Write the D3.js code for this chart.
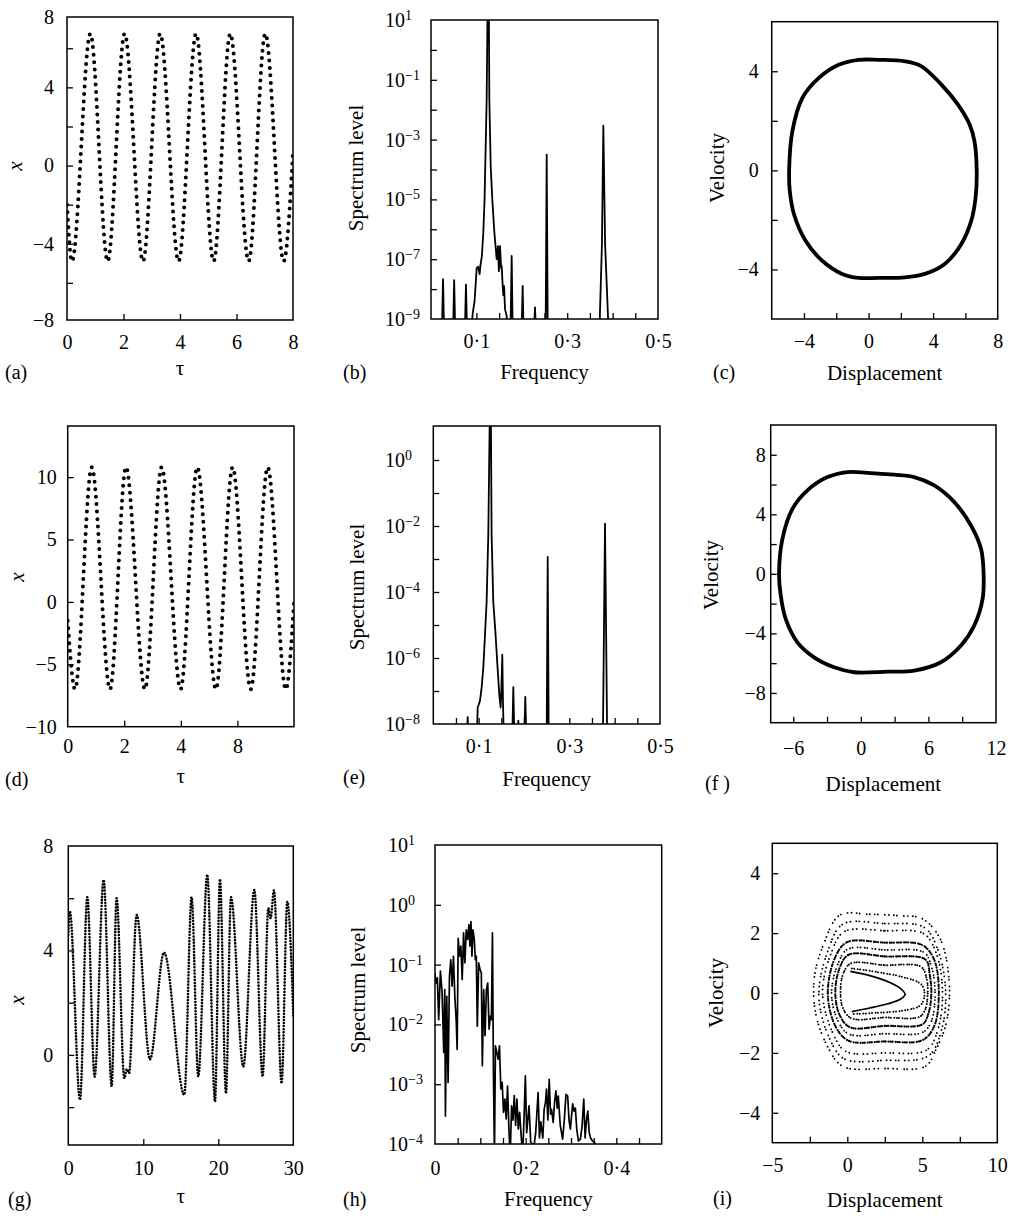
<!DOCTYPE html>
<html><head><meta charset="utf-8">
<script src="https://cdn.jsdelivr.net/npm/d3@7"></script>
<style>
body{margin:0;background:#fff}
text{font-family:"Liberation Serif","Times New Roman",serif;fill:#000}
</style>
</head><body>
<script>
// ---------------- DATA ----------------
// (a) time series: extremes
const tauA = [0, 0.177, 0.826, 1.44, 2.04, 2.69, 3.30, 3.95, 4.57, 5.19, 5.78, 6.43, 7.02, 7.67, 8.0];
const xA   = [-2.0, -4.9, 6.75, -4.9, 6.75, -4.9, 6.75, -4.9, 6.75, -4.9, 6.75, -4.9, 6.75, -4.9, 0.7];
// (d)
const tauD = [0, 0.259, 0.848, 1.496, 2.06, 2.73, 3.32, 3.99, 4.58, 5.24, 5.83, 6.47, 7.07, 7.71, 8.0];
const xD   = [-1.5, -7.0, 10.8, -7.0, 10.8, -7.0, 10.8, -7.0, 10.8, -7.0, 10.8, -7.0, 10.8, -7.0, 0.0];
// (g)
const tauG = [0, 0.2, 1.56, 2.53, 3.51, 4.71, 5.78, 6.44, 7.47, 7.8, 8.1, 9.11, 10.89, 12.76, 15.47, 16.44, 17.33, 18.53, 19.56, 20.22, 21.02, 21.69, 23.33, 24.8, 25.91, 26.67, 26.98, 27.42, 28.44, 29.2, 30];
const xG   = [4.6, 5.5, -1.72, 6.04, -0.83, 6.7, -1.21, 6.0, -0.9, -0.55, -0.7, 5.36, -0.17, 3.92, -1.53, 6.04, -0.83, 6.9, -1.79, 6.73, -1.47, 6.04, -0.45, 6.32, -0.83, 5.62, 5.24, 6.3, -1.09, 5.87, 1.5];

// (b) spectrum: frequency and log10(level)
const freqB = [0, 0.024, 0.0265, 0.029, 0.0485, 0.051, 0.0535, 0.0745, 0.077, 0.0795, 0.088, 0.092, 0.096, 0.099, 0.1006, 0.104, 0.107, 0.109, 0.112, 0.1152, 0.118, 0.1195, 0.1226, 0.1245, 0.1275, 0.1285, 0.1315, 0.135, 0.1396, 0.143, 0.1446, 0.1475, 0.1495, 0.152, 0.1545, 0.1556, 0.158, 0.1593, 0.161, 0.163, 0.1666, 0.169, 0.175, 0.1777, 0.180, 0.1995, 0.2019, 0.204, 0.2265, 0.2291, 0.2315, 0.2525, 0.2548, 0.2572, 0.3708, 0.3765, 0.3796, 0.3835, 0.3914, 0.5];
const expB  = [-9.5, -9.5, -7.67, -9.5, -9.5, -7.7, -9.5, -9.5, -7.85, -9.5, -9.5, -8.8, -8.4, -7.7, -7.3, -7.25, -7.5, -7.2, -6.9, -6.11, -5.0, -3.89, -1.67, 1.3, 1.3, -1.67, -3.89, -5.0, -6.11, -6.7, -7.0, -6.56, -7.4, -6.56, -7.3, -7.22, -7.9, -8.2, -7.9, -8.67, -8.89, -9.5, -9.5, -6.89, -9.5, -9.5, -7.89, -9.5, -9.5, -8.61, -9.5, -9.5, -3.5, -9.5, -9.5, -6.5, -2.53, -6.5, -9.5, -9.5];
// (e)
const freqE = [0, 0.0735, 0.0758, 0.078, 0.096, 0.0979, 0.1005, 0.1029, 0.1066, 0.1103, 0.114, 0.1176, 0.1213, 0.1245, 0.127, 0.1286, 0.1323, 0.1374, 0.1418, 0.1455, 0.1485, 0.150, 0.1522, 0.1535, 0.1555, 0.174, 0.1765, 0.179, 0.186, 0.1875, 0.189, 0.2005, 0.2029, 0.2053, 0.250, 0.2523, 0.2546, 0.374, 0.3765, 0.3787, 0.381, 0.3835, 0.5];
const expE  = [-8.5, -8.5, -7.79, -8.5, -8.5, -7.5, -7.4, -7.3, -6.9, -6.3, -5.3, -4.3, -2.27, 1.3, 1.3, -2.27, -4.3, -5.3, -6.3, -7.1, -7.5, -7.0, -5.9, -7.2, -8.5, -8.5, -6.88, -8.5, -8.5, -7.9, -8.5, -8.5, -7.18, -8.5, -8.5, -2.94, -8.5, -8.5, -5.0, -1.93, -5.0, -8.5, -8.5];
// (h)
const freqH = [0, 0.0022, 0.0052, 0.0081, 0.0119, 0.0156, 0.0193, 0.0215, 0.0230, 0.0259, 0.0289, 0.0319, 0.0348, 0.0378, 0.0407, 0.0437, 0.0467, 0.0489, 0.0511, 0.0541, 0.0570, 0.0600, 0.0630, 0.0659, 0.0689, 0.0719, 0.0748, 0.0770, 0.0793, 0.0815, 0.0837, 0.0867, 0.0889, 0.0911, 0.0933, 0.0963, 0.0993, 0.1022, 0.1044, 0.1074, 0.1104, 0.1133, 0.1163, 0.1193, 0.1222, 0.1244, 0.1267, 0.1289, 0.1311, 0.1333, 0.1363, 0.1393, 0.1422, 0.1452, 0.1481, 0.1511, 0.1541, 0.1570, 0.1600, 0.1630, 0.1659, 0.1689, 0.1719, 0.1748, 0.1778, 0.1807, 0.1837, 0.1867, 0.1896, 0.1933, 0.1963, 0.1993, 0.2022, 0.2074, 0.2111, 0.2185, 0.2222, 0.2274, 0.2304, 0.2333, 0.2378, 0.2407, 0.2437, 0.2459, 0.2489, 0.2519, 0.2548, 0.2570, 0.2607, 0.2637, 0.2667, 0.2696, 0.2719, 0.2763, 0.2815, 0.2852, 0.2889, 0.2926, 0.2956, 0.2985, 0.3015, 0.3037, 0.3067, 0.3096, 0.3126, 0.3163, 0.3207, 0.3244, 0.3281, 0.3311, 0.3341, 0.3370, 0.3400, 0.3430, 0.3474, 0.3519, 0.3563, 0.5];
const expH  = [-1.15, -1.31, -1.22, -1.92, -1.11, -1.46, -2.47, -1.42, -3.53, -1.53, -2.97, -1.19, -0.92, -1.36, -0.86, -1.53, -1.92, -2.42, -0.56, -0.86, -0.69, -1.25, -0.47, -0.97, -0.42, -0.58, -0.33, -0.69, -0.28, -0.86, -0.42, -0.58, -0.92, -0.86, -2.03, -0.97, -1.08, -1.14, -2.69, -1.42, -2.19, -1.42, -1.31, -2.08, -1.86, -1.92, -0.47, -2.81, -4.2, -2.36, -2.47, -2.58, -2.36, -3.08, -2.97, -3.47, -3.25, -3.58, -3.03, -3.75, -4.2, -3.36, -3.6, -3.19, -3.69, -3.25, -3.75, -3.47, -3.81, -4.2, -3.58, -2.86, -3.81, -3.36, -3.97, -4.03, -3.8, -3.14, -3.9, -3.63, -3.9, -3.42, -3.3, -3.08, -3.6, -2.92, -3.5, -3.42, -3.64, -3.3, -3.11, -3.4, -3.2, -3.69, -3.92, -3.6, -3.17, -3.2, -3.6, -3.75, -3.5, -3.33, -3.45, -3.4, -3.75, -3.95, -3.92, -3.7, -3.25, -3.9, -3.6, -3.45, -3.8, -3.9, -3.95, -3.97, -4.2, -4.2];

// (c) phase portrait
const dispC = [-4.92, -4.72, -4.1, -3.08, -1.85, -0.62, 0.62, 2.26, 3.28, 4.51, 5.54, 6.26, 6.56, 6.7, 6.63, 6.36, 5.74, 4.72, 3.49, 2.26, 0.62, -0.62, -1.64, -2.87, -3.9, -4.62, -4.88];
const velC  = [0, 1.58, 2.92, 3.73, 4.26, 4.46, 4.46, 4.4, 4.2, 3.46, 2.65, 1.85, 1.18, 0, -1.1, -2.04, -2.98, -3.78, -4.18, -4.32, -4.34, -4.34, -4.18, -3.65, -2.84, -1.77, -0.83];
// (f)
const dispF = [-7.26, -6.96, -6.07, -4.74, -2.96, -1.19, 0.59, 2.96, 4.74, 6.52, 8.3, 9.78, 10.67, 10.9, 10.81, 10.07, 8.89, 7.11, 4.74, 2.37, -0.59, -2.37, -4.15, -5.63, -6.67, -7.11];
const velF  = [0, 2.35, 4.37, 5.61, 6.5, 6.84, 6.79, 6.66, 6.5, 5.94, 4.82, 3.25, 1.68, 0, -1.68, -3.47, -4.82, -5.94, -6.5, -6.57, -6.61, -6.28, -5.61, -4.6, -3.03, -1.46];
// (i) attractor bands (closed loops of scattered points) and hooks
const dispI1 = [-0.5, 1.5, 3.5, 5.0, 6.2, 6.8, 6.6, 5.9, 5.2, 2.5, -0.3, -1.3, -2.1, -2.2, -1.6];
const velI1  = [2.6, 2.63, 2.58, 2.48, 1.8, 0.3, -1.0, -1.9, -2.45, -2.52, -2.45, -1.8, -0.7, 0.5, 1.6];
const dispI2 = [-0.3, 2.5, 5.1, 6.0, 6.55, 6.3, 5.4, 2.5, -0.2, -1.2, -1.9, -1.3];
const velI2  = [2.3, 2.32, 2.2, 1.5, 0.1, -1.2, -2.1, -2.25, -2.2, -1.5, -0.1, 1.4];
const dispI3 = [-0.2, 2.5, 5.1, 5.95, 6.35, 6.05, 5.3, 2.5, -0.1, -1.0, -1.65, -1.1];
const velI3  = [2.05, 2.08, 1.98, 1.3, 0.0, -1.2, -1.9, -2.0, -1.95, -1.3, 0.0, 1.3];
const dispI4 = [0.0, 2.5, 5.0, 5.8, 6.1, 5.8, 5.0, 2.5, 0.1, -0.8, -1.3, -0.8];
const velI4  = [1.7, 1.68, 1.6, 1.1, 0.0, -1.1, -1.58, -1.62, -1.6, -1.1, 0.0, 1.2];
const dispI5 = [0.05, 2.5, 5.1, 5.6, 5.85, 5.6, 5.0, 2.5, 0.1, -0.65, -1.05, -0.6];
const velI5  = [1.47, 1.44, 1.36, 0.9, 0.0, -0.95, -1.32, -1.36, -1.37, -0.9, 0.0, 1.0];
const dispI6 = [0.1, 2.5, 5.2, 5.5, 5.6, 5.4, 5.0, 2.5, 0.2, -0.5, -0.8, -0.5];
const velI6  = [1.28, 1.22, 1.12, 0.6, -0.05, -0.7, -1.05, -1.1, -1.15, -0.75, 0.0, 0.85];
const dispI7 = [0.2, 2.5, 4.9, 5.3, 5.35, 5.2, 4.8, 2.5, 0.3, -0.3, -0.45, -0.3];
const velI7  = [0.98, 0.93, 0.88, 0.45, -0.1, -0.55, -0.8, -0.82, -0.85, -0.5, 0.1, 0.6];
const dispHook1 = [0.2, 1.5, 2.7, 3.5, 3.85, 3.5, 2.7, 1.5, 0.3];
const velHook1  = [0.72, 0.58, 0.38, 0.17, -0.05, -0.22, -0.36, -0.5, -0.62];
const dispHook2 = [0.3, 2.0, 3.8, 4.9, 5.15, 4.9, 3.8, 2.0, 0.3];
const velHook2  = [0.82, 0.7, 0.52, 0.3, 0.0, -0.4, -0.58, -0.66, -0.7];

// tick labels
const M = "\u2212", D = "\u00B7";
const xLabA = ["0","2","4","6","8"], yLabA = ["8","4","0",M+"4",M+"8"];
const xLabB = ["0"+D+"1","0"+D+"3","0"+D+"5"], yExpB = [1,-1,-3,-5,-7,-9];
const xLabC = [M+"4","0","4","8"], yLabC = ["4","0",M+"4"];
const xLabD = ["0","2","4","8"], yLabD = ["10","5","0",M+"5",M+"10"];
const xLabE = ["0"+D+"1","0"+D+"3","0"+D+"5"], yExpE = [0,-2,-4,-6,-8];
const xLabF = [M+"6","0","6","12"], yLabF = ["8","4","0",M+"4",M+"8"];
const xLabG = ["0","10","20","30"], yLabG = ["8","4","0"];
const xLabH = ["0","0"+D+"2","0"+D+"4"], yExpH = [1,0,-1,-2,-3,-4];
const xLabI = [M+"5","0","5","10"], yLabI = ["4","2","0",M+"2",M+"4"];

// ---------------- DRAWING ----------------
const SERIF = '"Liberation Serif","Times New Roman",serif';
const svg = d3.select("body").append("svg").attr("width",1019).attr("height",1218);
const defs = svg.append("defs");
let clipN = 0;
const freqTicks = [0.05,0.1,0.15,0.2,0.25,0.3,0.35,0.4,0.45];

function panel(p){
  const [L,T,R,B] = p.box;
  const x = p.x.range([L,R]);
  const y = p.y.range([B,T]);
  const g = svg.append("g");
  const id = "cp"+(clipN++);
  defs.append("clipPath").attr("id",id).append("rect")
    .attr("x",L).attr("y",T).attr("width",R-L).attr("height",B-T);
  const plot = g.append("g").attr("clip-path",`url(#${id})`);
  p.draw(plot,x,y);

  const tx = g.append("g").attr("transform",`translate(0,${B})`)
    .call(d3.axisBottom(x).tickValues(p.xTicks).tickSize(-6).tickFormat(""));
  tx.select(".domain").remove(); tx.selectAll("line").attr("stroke-width",1.3);
  const ty = g.append("g").attr("transform",`translate(${L},0)`)
    .call(d3.axisLeft(y).tickValues(p.yTicks).tickSize(-6).tickFormat(""));
  ty.select(".domain").remove(); ty.selectAll("line").attr("stroke-width",1.3);

  const xl = g.append("g").attr("transform",`translate(0,${B})`)
    .call(d3.axisBottom(x).tickValues(p.xLabelVals).tickSize(0).tickPadding(p.xPad)
      .tickFormat((d,i)=>p.xLabels[i]));
  xl.select(".domain").remove();
  xl.attr("font-size",20).attr("font-family",SERIF);

  if (p.logExps){
    p.logExps.forEach(e=>{
      const t = g.append("text").attr("x",p.logX).attr("y",y(Math.pow(10,e)))
        .attr("dy","0.35em").attr("font-size",20);
      t.append("tspan").text("10");
      t.append("tspan").attr("dy","-0.5em").attr("font-size",14).text(e<0 ? M+Math.abs(e) : String(e));
    });
  } else {
    const yl = g.append("g").attr("transform",`translate(${L},0)`)
      .call(d3.axisLeft(y).tickValues(p.yLabelVals).tickSize(0).tickPadding(p.yPad)
        .tickFormat((d,i)=>p.yLabels[i]));
    yl.select(".domain").remove();
    yl.attr("font-size",20).attr("font-family",SERIF);
  }

  g.append("rect").attr("x",L).attr("y",T).attr("width",R-L).attr("height",B-T)
    .attr("fill","none").attr("stroke","#000").attr("stroke-width",1.5);

  g.append("text").attr("x",(L+R)/2).attr("y",p.xTitleY).attr("text-anchor","middle")
    .attr("font-size",21).text(p.xTitle);
  const yt = g.append("text").attr("transform",`translate(${p.yTitlePos[0]},${p.yTitlePos[1]}) rotate(-90)`)
    .attr("text-anchor","middle").attr("dy","0.35em").attr("font-size",21).text(p.yTitle);
  if (p.yItalic) yt.attr("font-style","italic");
  g.append("text").attr("x",p.tag[0]).attr("y",p.tag[1]).attr("font-size",20).text(p.tag[2]);
}

function dotted(plot,x,y,xs,ys,curve,w,dash){
  const pts = xs.map((v,i)=>[v,ys[i]]);
  plot.append("path").datum(pts)
    .attr("d",d3.line().x(d=>x(d[0])).y(d=>y(d[1])).curve(curve))
    .attr("fill","none").attr("stroke","#000").attr("stroke-width",w)
    .attr("stroke-linecap","round").attr("stroke-dasharray",dash);
}
function solid(plot,x,y,xs,ys,curve,w){
  const pts = xs.map((v,i)=>[v,ys[i]]);
  plot.append("path").datum(pts)
    .attr("d",d3.line().x(d=>x(d[0])).y(d=>y(d[1])).curve(curve))
    .attr("fill","none").attr("stroke","#000").attr("stroke-width",w)
    .attr("stroke-linejoin","round");
}
function spectrum(plot,x,y,fs,es,w){
  const pts = fs.map((f,i)=>[f,Math.pow(10,es[i])]);
  plot.append("path").datum(pts)
    .attr("d",d3.line().x(d=>x(d[0])).y(d=>y(d[1])))
    .attr("fill","none").attr("stroke","#000").attr("stroke-width",w||1.6)
    .attr("stroke-linejoin","round");
}

// (a)
panel({box:[67,17,293,320], x:d3.scaleLinear().domain([0,8]), y:d3.scaleLinear().domain([-7.9,7.6]).clamp(true),
  draw:(pl,x,y)=>dotted(pl,x,y,tauA,xA,d3.curveMonotoneX,4,"0 7.5"),
  xTicks:[2,4,6], yTicks:[-6,-4,-2,0,2,4,6], xLabelVals:[0,2,4,6,8], xLabels:xLabA, xPad:15,
  yLabelVals:[8,4,0,-4,-8], yLabels:yLabA, yPad:13,
  xTitle:"\u03C4", xTitleY:375, yTitle:"x", yItalic:true, yTitlePos:[15,166], tag:[5,379,"(a)"]});
// (b)
panel({box:[431,20,658,319], x:d3.scaleLinear().domain([0,0.5]), y:d3.scaleLog().domain([1e-9,1e1]),
  draw:(pl,x,y)=>spectrum(pl,x,y,freqB,expB,1.8),
  xTicks:freqTicks, yTicks:[1e-8,1e-7,1e-6,1e-5,1e-4,1e-3,1e-2,1e-1,1], xLabelVals:[0.1,0.3,0.5], xLabels:xLabB, xPad:15,
  logExps:yExpB, logX:385,
  xTitle:"Frequency", xTitleY:379, yTitle:"Spectrum level", yTitlePos:[356,168], tag:[343,379,"(b)"]});
// (c)
panel({box:[771.7,21.7,997.7,319], x:d3.scaleLinear().domain([-6,8]), y:d3.scaleLinear().domain([-6,6]),
  draw:(pl,x,y)=>solid(pl,x,y,dispC,velC,d3.curveCatmullRomClosed,3.8),
  xTicks:[-4,-2,0,2,4,6], yTicks:[-4,-2,0,2,4], xLabelVals:[-4,0,4,8], xLabels:xLabC, xPad:15,
  yLabelVals:[4,0,-4], yLabels:yLabC, yPad:13,
  xTitle:"Displacement", xTitleY:380, yTitle:"Velocity", yTitlePos:[717,168], tag:[713,379,"(c)"]});
// (d)
panel({box:[67.7,426,294,726.7], x:d3.scaleLinear().domain([0,8]), y:d3.scaleLinear().domain([-10,14.1]),
  draw:(pl,x,y)=>dotted(pl,x,y,tauD,xD,d3.curveMonotoneX,4,"0 7.5"),
  xTicks:[2,4,6], yTicks:[-5,0,5,10], xLabelVals:[0,2,4,6], xLabels:xLabD, xPad:12,
  yLabelVals:[10,5,0,-5,-10], yLabels:yLabD, yPad:11,
  xTitle:"\u03C4", xTitleY:783, yTitle:"x", yItalic:true, yTitlePos:[17,577], tag:[5,786,"(d)"]});
// (e)
panel({box:[433.3,426,660,724], x:d3.scaleLinear().domain([0,0.5]), y:d3.scaleLog().domain([1e-8,Math.pow(10,1.03)]),
  draw:(pl,x,y)=>spectrum(pl,x,y,freqE,expE,1.8),
  xTicks:freqTicks, yTicks:[1e-7,1e-6,1e-5,1e-4,1e-3,1e-2,1e-1,1], xLabelVals:[0.1,0.3,0.5], xLabels:xLabE, xPad:15,
  logExps:yExpE, logX:385,
  xTitle:"Frequency", xTitleY:786, yTitle:"Spectrum level", yTitlePos:[357,587], tag:[343,784,"(e)"]});
// (f)
panel({box:[770.7,425,996,722.7], x:d3.scaleLinear().domain([-8,12]), y:d3.scaleLinear().domain([-10,10]),
  draw:(pl,x,y)=>solid(pl,x,y,dispF,velF,d3.curveCatmullRomClosed,3.8),
  xTicks:[-6,-3,0,3,6,9], yTicks:[-8,-6,-4,-2,0,2,4,6,8], xLabelVals:[-6,0,6,12], xLabels:xLabF, xPad:18,
  yLabelVals:[8,4,0,-4,-8], yLabels:yLabF, yPad:5,
  xTitle:"Displacement", xTitleY:791, yTitle:"Velocity", yTitlePos:[711,575], tag:[705,790,"(f )"]});
// (g)
panel({box:[68.3,846,293.3,1145], x:d3.scaleLinear().domain([0,30]), y:d3.scaleLinear().domain([-3.45,8]),
  draw:(pl,x,y)=>dotted(pl,x,y,tauG,xG,d3.curveMonotoneX,2.6,"0 3.1"),
  xTicks:[10,20], yTicks:[-2,0,2,4,6], xLabelVals:[0,10,20,30], xLabels:xLabG, xPad:16,
  yLabelVals:[8,4,0], yLabels:yLabG, yPad:15,
  xTitle:"\u03C4", xTitleY:1203, yTitle:"x", yItalic:true, yTitlePos:[17,1000], tag:[8,1206,"(g)"]});
// (h)
panel({box:[435,845,661.7,1144], x:d3.scaleLinear().domain([0,0.5]), y:d3.scaleLog().domain([1e-4,1e1]),
  draw:(pl,x,y)=>spectrum(pl,x,y,freqH,expH,1.7),
  xTicks:freqTicks, yTicks:[1e-3,1e-2,1e-1,1], xLabelVals:[0,0.2,0.4], xLabels:xLabH, xPad:17,
  logExps:yExpH, logX:388,
  xTitle:"Frequency", xTitleY:1206, yTitle:"Spectrum level", yTitlePos:[358,990], tag:[343,1206,"(h)"]});
// (i)
panel({box:[772.3,843.3,997.3,1142.7], x:d3.scaleLinear().domain([-5,10]), y:d3.scaleLinear().domain([-5,5]),
  draw:(pl,x,y)=>{
    const C = d3.curveCatmullRomClosed, O = d3.curveCatmullRom;
    dotted(pl,x,y,dispI1,velI1,C,1.9,"0 5 0 3 0 7 0 4");
    dotted(pl,x,y,dispI2,velI2,C,1.9,"0 4 0 6 0 3 0 5");
    dotted(pl,x,y,dispI3,velI3,C,1.9,"0 3 0 5 0 4 0 6");
    dotted(pl,x,y,dispI4,velI4,C,2.3,"0 2.2 0 3 0 1.8");
    dotted(pl,x,y,dispI5,velI5,C,1.9,"0 3 0 4 0 2.5 0 5");
    dotted(pl,x,y,dispI6,velI6,C,2.3,"0 2 0 2.8 0 1.8");
    dotted(pl,x,y,dispI7,velI7,C,2.0,"0 2.6 0 3.5 0 2");
    dotted(pl,x,y,dispHook2,velHook2,O,2.0,"0 2.5 0 3.5");
    solid(pl,x,y,dispHook1,velHook1,O,1.7);
  },
  xTicks:[-2.5,0,2.5,5,7.5], yTicks:[-4,-2,0,2,4], xLabelVals:[-5,0,5,10], xLabels:xLabI, xPad:15,
  yLabelVals:[4,2,0,-2,-4], yLabels:yLabI, yPad:12,
  xTitle:"Displacement", xTitleY:1207, yTitle:"Velocity", yTitlePos:[716,993], tag:[713,1205,"(i)"]});
</script>
</body></html>
